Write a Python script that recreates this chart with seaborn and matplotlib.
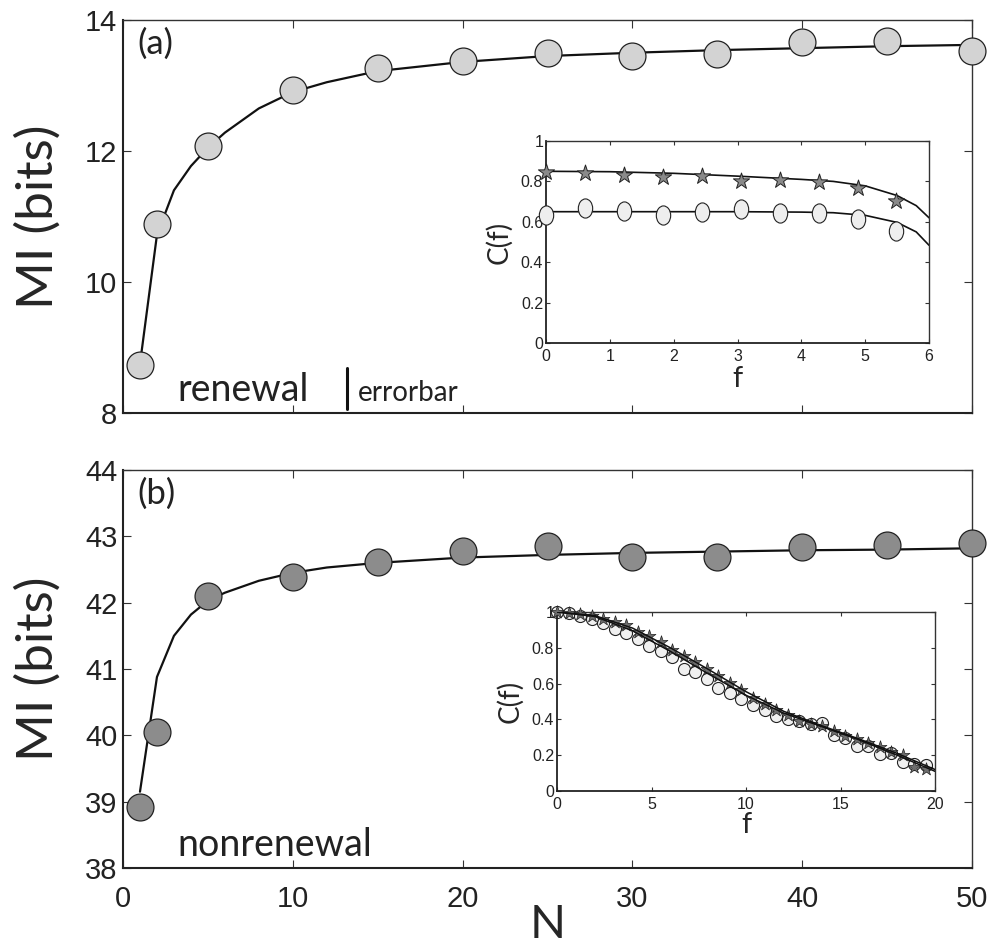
import numpy as np
import matplotlib
matplotlib.use("Agg")
import matplotlib.pyplot as plt
from matplotlib.path import Path
from matplotlib.transforms import Affine2D
import seaborn as sns

# ---- main panels ----
N = [1, 2, 5, 10, 15, 20, 25, 30, 35, 40, 45, 50]
mi_renewal = [8.74, 10.88, 12.07, 12.93, 13.27, 13.37, 13.49, 13.45, 13.48, 13.66, 13.68, 13.53]
mi_nonrenewal = [38.92, 40.05, 42.1, 42.39, 42.61, 42.78, 42.86, 42.69, 42.69, 42.84, 42.87, 42.9]

N_fit = [1, 2, 3, 4, 5, 6, 8, 10, 12, 15, 20, 25, 30, 35, 40, 45, 50]
fit_renewal = [8.75, 10.72, 11.4, 11.77, 12.05, 12.28, 12.65, 12.9, 13.05, 13.22, 13.36, 13.45,
               13.5, 13.54, 13.57, 13.6, 13.62]
fit_nonrenewal = [39.15, 40.88, 41.5, 41.82, 42.03, 42.15, 42.33, 42.45, 42.53, 42.6, 42.68,
                  42.72, 42.75, 42.77, 42.79, 42.8, 42.82]

# ---- inset (a) ----
fa = [0, 0.61, 1.22, 1.83, 2.44, 3.05, 3.66, 4.27, 4.88, 5.49]
ca_star = [0.846, 0.843, 0.834, 0.82, 0.826, 0.80, 0.808, 0.797, 0.768, 0.705]
ca_circ = [0.633, 0.667, 0.653, 0.633, 0.648, 0.662, 0.642, 0.645, 0.612, 0.554]
fa_fit = [0, 1, 2, 3, 4, 4.5, 5, 5.5, 5.8, 6]
ca_star_fit = [0.85, 0.848, 0.84, 0.826, 0.81, 0.80, 0.778, 0.73, 0.68, 0.62]
ca_circ_fit = [0.65, 0.65, 0.65, 0.65, 0.648, 0.645, 0.632, 0.597, 0.55, 0.484]

# ---- inset (b) ----
fb = [0, 0.61, 1.22, 1.83, 2.44, 3.05, 3.66, 4.27, 4.88, 5.49, 6.1, 6.71, 7.32, 7.93, 8.54,
      9.15, 9.76, 10.37, 10.98, 11.59, 12.2, 12.81, 13.42, 14.03, 14.64, 15.25, 15.86, 16.47,
      17.08, 17.69, 18.3, 18.91, 19.52]
cb_star = [1.0, 0.996, 0.987, 0.98, 0.963, 0.944, 0.93, 0.89, 0.866, 0.833, 0.79, 0.753, 0.72,
           0.68, 0.64, 0.604, 0.563, 0.522, 0.485, 0.452, 0.424, 0.392, 0.374, 0.362, 0.336,
           0.309, 0.29, 0.266, 0.247, 0.219, 0.2, 0.132, 0.123]
cb_circ = [1.0, 0.996, 0.98, 0.96, 0.94, 0.907, 0.88, 0.848, 0.81, 0.783, 0.75, 0.684, 0.666,
           0.628, 0.578, 0.545, 0.513, 0.48, 0.452, 0.418, 0.405, 0.392, 0.377, 0.381, 0.312,
           0.294, 0.251, 0.251, 0.204, 0.21, 0.164, 0.149, 0.145]
fb_fit = [0, 2, 4, 6, 8, 10, 12, 14, 16, 18, 20]
cb_star_fit = [1.0, 0.98, 0.91, 0.80, 0.68, 0.555, 0.445, 0.365, 0.29, 0.21, 0.12]
cb_circ_fit = [1.0, 0.975, 0.895, 0.78, 0.655, 0.535, 0.435, 0.36, 0.285, 0.2, 0.11]

sns.set_style("white")
plt.rcParams['font.family'] = ['Liberation Sans', 'DejaVu Sans']
plt.rcParams['xtick.direction'] = 'in'
plt.rcParams['ytick.direction'] = 'in'
TXT = ['Lato', 'DejaVu Sans']

ell = Path.unit_circle().transformed(Affine2D().scale(0.75, 1.0))

fig = plt.figure(figsize=(9.93, 9.5), dpi=100)
W, H = 993, 950


def add_ax(x0, x1, y0, y1):
    return fig.add_axes([x0 / W, 1 - y1 / H, (x1 - x0) / W, (y1 - y0) / H])


def style(ax, big=True):
    for s in ['left', 'bottom']:
        ax.spines[s].set_linewidth(1.5 if big else 1.3)
        ax.spines[s].set_color('#222222')
    for s in ['top', 'right']:
        ax.spines[s].set_linewidth(1.0)
        ax.spines[s].set_color('#333333')
        ax.spines[s].set_visible(True)
    ax.tick_params(which='both', top=True, right=True, bottom=True, left=True,
                   length=6 if big else 3, width=0.8, color='#333333',
                   labelsize=21 if big else 11.5, labelcolor='#222222')


def main_panel(ax, y, fit, face, ylim, yticks, label, note):
    sns.lineplot(x=N_fit, y=fit, ax=ax, color='#111111', lw=1.6, estimator=None, zorder=2)
    sns.scatterplot(x=N, y=y, ax=ax, s=375, color=face, edgecolor='#222222',
                    linewidth=0.9, zorder=3, clip_on=False)
    ax.set_xlim(0, 50)
    ax.set_ylim(*ylim)
    ax.set_yticks(yticks)
    ax.set_xticks([0, 10, 20, 30, 40, 50])
    style(ax)
    ax.tick_params(axis='y', pad=4)
    ax.tick_params(axis='x', pad=12)
    ax.set_ylabel('MI (bits)', fontsize=37, family=TXT)
    ax.yaxis.set_label_coords(-0.072, 0.5)
    ax.text(0.017, 0.94, label, transform=ax.transAxes, fontsize=25, family=TXT,
            ha='left', va='center', color='#222222')
    ax.text(0.064, 0.03, note, transform=ax.transAxes, fontsize=27, family=TXT,
            ha='left', va='baseline', color='#222222')


ax1 = add_ax(123, 972, 20, 413)
main_panel(ax1, mi_renewal, fit_renewal, '#d3d3d3', (8, 14), [8, 10, 12, 14], '(a)', 'renewal')
ax1.set_xticklabels([])
ax1.plot([0.2635, 0.2635], [0.01, 0.115], transform=ax1.transAxes, color='#111111', lw=2.2)
ax1.text(0.277, 0.03, 'errorbar', transform=ax1.transAxes, fontsize=20, family=TXT,
         ha='left', va='baseline', color='#222222')

ax2 = add_ax(123, 972, 470, 868)
main_panel(ax2, mi_nonrenewal, fit_nonrenewal, '#8c8c8c', (38, 44), [38, 39, 40, 41, 42, 43, 44],
           '(b)', 'nonrenewal')
ax2.set_xlabel('N', fontsize=34, family=TXT, labelpad=-6)

# inset (a)
ia = add_ax(546, 929, 141, 343)
sns.lineplot(x=fa_fit, y=ca_star_fit, ax=ia, color='#111111', lw=1.2, estimator=None, zorder=2)
sns.lineplot(x=fa_fit, y=ca_circ_fit, ax=ia, color='#111111', lw=1.2, estimator=None, zorder=2)
sns.scatterplot(x=fa, y=ca_star, ax=ia, marker='*', s=150, color='#8a8a8a',
                edgecolor='#222222', linewidth=0.7, zorder=3, clip_on=False)
sns.scatterplot(x=fa, y=ca_circ, ax=ia, marker=ell, s=190, color='#eeeeee',
                edgecolor='#222222', linewidth=0.8, zorder=3, clip_on=False)
ia.set_xlim(0, 6)
ia.set_ylim(0, 1)
ia.set_xticks(range(7))
ia.set_yticks([0, 0.2, 0.4, 0.6, 0.8, 1])
ia.set_yticklabels(['0', '0.2', '0.4', '0.6', '0.8', '1'])
style(ia, big=False)
ia.tick_params(axis='y', pad=2)
ia.tick_params(axis='x', pad=4)
ia.set_xlabel('f', fontsize=21, family=TXT, labelpad=2)
ia.set_ylabel('C(f)', fontsize=20, family=TXT)
ia.yaxis.set_label_coords(-0.088, 0.5)

# inset (b)
ib = add_ax(557, 935, 612, 791)
sns.scatterplot(x=fb, y=cb_circ, ax=ib, marker='o', s=75, color='#f0f0f0',
                edgecolor='#222222', linewidth=0.8, zorder=2, clip_on=False)
sns.scatterplot(x=fb, y=cb_star, ax=ib, marker='*', s=95, color='#6e6e6e',
                edgecolor='#222222', linewidth=0.5, zorder=3, clip_on=False)
sns.lineplot(x=fb_fit, y=cb_star_fit, ax=ib, color='#111111', lw=1.1, estimator=None, zorder=4)
sns.lineplot(x=fb_fit, y=cb_circ_fit, ax=ib, color='#111111', lw=1.1, estimator=None, zorder=4)
ib.set_xlim(0, 20)
ib.set_ylim(0, 1)
ib.set_xticks([0, 5, 10, 15, 20])
ib.set_yticks([0, 0.2, 0.4, 0.6, 0.8, 1])
ib.set_yticklabels(['0', '0.2', '0.4', '0.6', '0.8', '1'])
style(ib, big=False)
ib.tick_params(axis='y', pad=2)
ib.tick_params(axis='x', pad=4)
ib.set_xlabel('f', fontsize=21, family=TXT, labelpad=0)
ib.set_ylabel('C(f)', fontsize=20, family=TXT)
ib.yaxis.set_label_coords(-0.09, 0.5)

fig.savefig('out.png', dpi=100)
